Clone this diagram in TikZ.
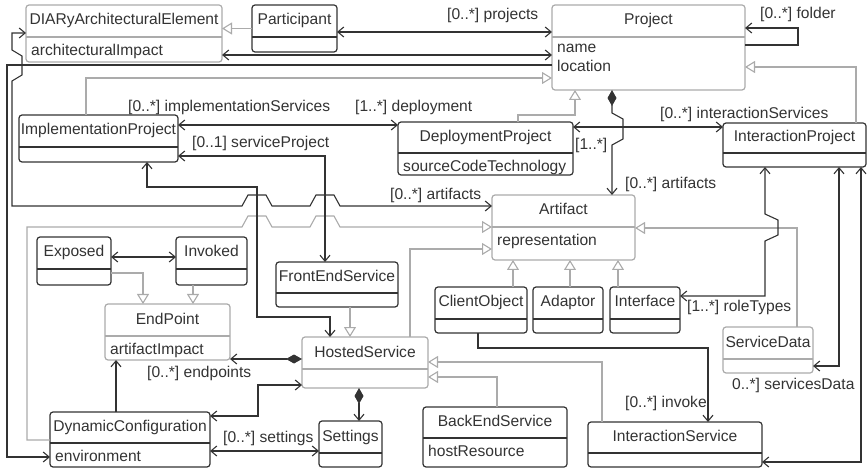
\documentclass[tikz,border=0pt]{standalone}
\usepackage{fontspec}
\setmainfont{Liberation Sans}
\usetikzlibrary{arrows.meta}
\definecolor{dk}{HTML}{333333}
\definecolor{lt}{HTML}{ABABAB}
\newcommand\clsfont{\fontsize{15.6}{19}\selectfont}
% class box: name, style, x, y, width, height, header height, title, attributes
\newcommand\umlclass[9]{%
  \node[#2, minimum width=#5pt, minimum height=#6pt] (#1) at (#3,#4) {};
  \draw[#2] ([yshift=-#7pt]#1.north west) -- ([yshift=-#7pt]#1.north east);
  \node[ttl] (#1t) at ([yshift=-#7pt/2]#1.north) {#8};
  \node[attr] (#1a) at ([yshift=-#7pt]#1.north west) {#9};}
\begin{document}
\begin{tikzpicture}[x=1pt, y=-1pt, every node/.style={font=\clsfont, text=dk},
  cls/.style={draw=dk, line width=1.2pt, rounded corners=3pt, anchor=north west, inner sep=0pt, outer sep=0pt},
  acls/.style={cls, draw=lt},
  ttl/.style={inner sep=0pt, text height=11.5pt, text depth=3.5pt},
  attr/.style={anchor=north west, align=left, inner xsep=5pt, inner ysep=6.5pt},
  lbl/.style={anchor=west, inner sep=0pt},
  ln/.style={draw=dk, line width=1.1pt},
  bi/.style={ln, {Straight Barb[length=6pt,width=10pt]}-{Straight Barb[length=6pt,width=10pt]}},
  uni/.style={ln, -{Straight Barb[length=6pt,width=10pt]}},
  comp/.style={ln, {Diamond[length=16pt,width=9pt]}-{Straight Barb[length=6pt,width=10pt]}},
  gen/.style={draw=lt, line width=1.1pt, -{Triangle[open,length=10pt,width=12pt]}}]
\useasboundingbox (0,0) rectangle (868,473);
% classes
\umlclass{diary}{acls}{26}{5}{196}{57}{32}{DIARyArchitecturalElement}{architecturalImpact}
\umlclass{participant}{cls}{252}{5}{85}{47}{32}{Participant}{}
\umlclass{project}{acls}{552}{5}{193}{85}{32}{Project}{name\\location}
\umlclass{implproj}{cls}{19}{115}{159}{47}{32}{ImplementationProject}{}
\umlclass{deployproj}{cls}{398}{122}{175}{53}{31}{DeploymentProject}{sourceCodeTechnology}
\umlclass{interproj}{cls}{723}{123}{143}{44}{30}{InteractionProject}{}
\umlclass{artifact}{acls}{492}{195}{143}{65}{32}{Artifact}{representation}
\umlclass{exposed}{cls}{37}{237}{74}{48}{32}{Exposed}{}
\umlclass{invoked}{cls}{176}{237}{71}{48}{32}{Invoked}{}
\umlclass{frontend}{cls}{276}{262}{122}{45}{31}{FrontEndService}{}
\umlclass{clientobj}{cls}{435}{287}{92}{46}{32}{ClientObject}{}
\umlclass{adaptor}{cls}{533}{287}{70}{46}{32}{Adaptor}{}
\umlclass{interface}{cls}{610}{287}{70}{46}{32}{Interface}{}
\umlclass{endpoint}{acls}{105}{304}{125}{56}{32}{EndPoint}{artifactImpact}
\umlclass{hosted}{acls}{302}{337}{126}{51}{32}{HostedService}{}
\umlclass{servicedata}{acls}{723}{327}{90}{46}{32}{ServiceData}{}
\umlclass{dynconf}{cls}{50}{412}{160}{55}{31}{DynamicConfiguration}{environment}
\umlclass{settings}{cls}{319}{421}{63}{46}{32}{Settings}{}
\umlclass{backend}{cls}{423}{407}{144}{60}{31}{BackEndService}{hostResource}
\umlclass{interserv}{cls}{588}{422}{174}{45}{31}{InteractionService}{}
% generalisations
\draw[gen] (participant.west) -- (participant.west -| diary.east);
\draw[gen] (implproj.north -| 86,0) |- (project.west |- 0,78);
\draw[gen] (deployproj.north -| 518,0) |- (575,115) -- (project.south -| 575,0);
\draw[gen] (interproj.north -| 856,0) |- (project.east |- 0,67);
\draw[gen] (dynconf.west |- 0,440) -| (27,227) -- (242,227) -- (248,216) -- (266,216) -- (272,227)
  -- (310,227) -- (316,216) -- (334,216) -- (340,227) -- (artifact.west |- 0,227);
\draw[gen] (hosted.north -| 410,0) |- (artifact.west |- 0,249);
\draw[gen] (servicedata.north -| 797,0) |- (artifact.east |- 0,228);
\draw[gen] (clientobj.north -| 513,0) -- (artifact.south -| 513,0);
\draw[gen] (adaptor.north -| 570,0) -- (artifact.south -| 570,0);
\draw[gen] (interface.north -| 618,0) -- (artifact.south -| 618,0);
\draw[gen] (interserv.north -| 602,0) |- (hosted.east |- 0,362);
\draw[gen] (backend.north -| 497,0) |- (hosted.east |- 0,377);
\draw[gen] (frontend.south -| 350,0) -- (hosted.north -| 350,0);
\draw[gen] (exposed.east |- 0,273) -| (endpoint.north -| 143,0);
\draw[gen] (invoked.south -| 193,0) -- (endpoint.north -| 193,0);
% associations
\draw[bi] (participant.east |- 0,32) -- (project.west |- 0,32);
\draw[bi] (diary.east |- 0,55) -- (project.west |- 0,55);
\draw[uni] (project.west |- 0,65) -| (7,457) -- (dynconf.west |- 0,457);
\draw[uni] (project.east |- 0,45) -| (798,28) -- (project.east |- 0,28);
\draw[bi] (implproj.east |- 0,125) -- (deployproj.west |- 0,125);
\draw[bi] (implproj.east |- 0,156) -| (frontend.north -| 325,0);
\draw[bi] (implproj.south -| 147,0) |- (257,187) -- (257,317) -| (hosted.north -| 330,0);
\draw[bi] (deployproj.east |- 0,127) -- (interproj.west |- 0,127);
\draw[comp] (project.south -| 612,0) -- (612,113) -- (623,119) -- (623,139) -- (612,145) -- (artifact.north -| 612,0);
\draw[bi] (diary.west |- 0,33) -- (12,33) -- (12,50) -- (22,56) -- (22,75) -- (12,81) -- (12,206)
  -- (242,206) -- (248,195) -- (266,195) -- (272,206) -- (310,206) -- (316,195) -- (334,195) -- (340,206)
  -- (artifact.west |- 0,206);
\draw[bi] (interface.east |- 0,296) -- (765,296) -- (765,241) -- (778,235) -- (778,220) -- (765,214) -- (interproj.south -| 765,0);
\draw[bi] (interproj.south -| 839,0) |- (servicedata.east |- 0,366);
\draw[bi] (interproj.south -| 861,0) |- (interserv.east |- 0,462);
\draw[uni] (clientobj.south -| 478,0) |- (708,348) -- (interserv.north -| 708,0);
\draw[comp] (hosted.west |- 0,359) -- (endpoint.east |- 0,359);
\draw[bi] (hosted.west |- 0,385) -| (258,416) -- (dynconf.east |- 0,416);
\draw[uni] (dynconf.north -| 116,0) -- (endpoint.south -| 116,0);
\draw[bi] (dynconf.east |- 0,451) -- (settings.west |- 0,451);
\draw[comp] (hosted.south -| 359,0) -- (settings.north -| 359,0);
\draw[bi] (exposed.east |- 0,257) -- (invoked.west |- 0,257);
% role labels
\node[lbl] (lprojects) at (447,15) {[0..*] projects};
\node[lbl] (lfolder) at (760,14) {[0..*] folder};
\node[lbl] (limpl) at (128,107) {[0..*] implementationServices};
\node[lbl] (ldeploy) at (355,107) {[1..*] deployment};
\node[lbl] (lservproj) at (192,143) {[0..1] serviceProject};
\node[lbl] (linterserv) at (660,114) {[0..*] interactionServices};
\node[lbl] (lone) at (575,145) {[1..*]};
\node[lbl] (lartifacts) at (625,184) {[0..*] artifacts};
\node[lbl] (lartifacts2) at (390,195) {[0..*] artifacts};
\node[lbl] (lroles) at (687,307) {[1..*] roleTypes};
\node[lbl] (lsdata) at (732,385) {0..*] servicesData};
\node[lbl] (linvoke) at (625,403) {[0..*] invoke};
\node[lbl] (lendpoints) at (147,373) {[0..*] endpoints};
\node[lbl] (lsettings) at (223,438) {[0..*] settings};
\end{tikzpicture}
\end{document}
